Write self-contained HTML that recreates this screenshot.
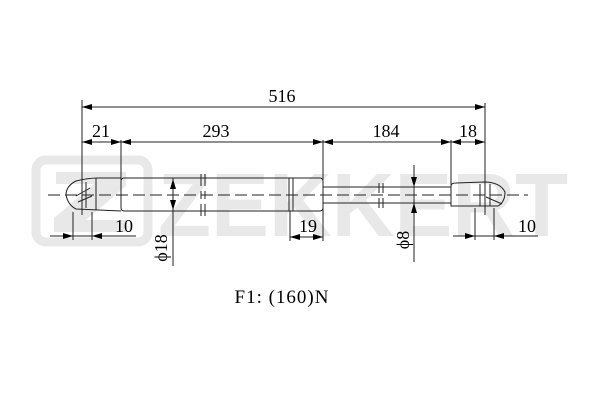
<!DOCTYPE html>
<html><head><style>body{margin:0;background:#fff}svg{display:block}</style></head><body>
<svg width="600" height="400" xmlns="http://www.w3.org/2000/svg" font-family="Liberation Serif, serif">
<defs><marker id="a" viewBox="0 0 10 6" refX="10" refY="3" markerWidth="10" markerHeight="6" orient="auto-start-reverse" markerUnits="userSpaceOnUse"><path d="M0,0L10,3L0,6z" fill="#000"/></marker></defs>
<g fill="#e8e8e8">
<rect x="36" y="160" width="112" height="82" rx="10" fill="none" stroke="#e8e8e8" stroke-width="9"/>
<path d="M56,172h70v14l-40,34h40v12h-72v-14l40-34h-38z"/>
<text x="158" y="236" font-family="Liberation Sans, sans-serif" font-weight="bold" font-size="90" textLength="410" lengthAdjust="spacingAndGlyphs">ZEKKERT</text>
</g>
<g stroke="#222" stroke-width="1" fill="none">
<line x1="82" y1="100" x2="82" y2="215"/><line x1="485" y1="103" x2="485" y2="215"/>
<line x1="121" y1="140" x2="121" y2="180"/><line x1="323" y1="140" x2="323" y2="180"/><line x1="451" y1="140" x2="451" y2="185"/>
<line x1="82" y1="107" x2="485" y2="107" marker-start="url(#a)" marker-end="url(#a)"/>
<line x1="82" y1="142" x2="121" y2="142" marker-start="url(#a)" marker-end="url(#a)"/>
<line x1="121" y1="142" x2="323" y2="142" marker-start="url(#a)" marker-end="url(#a)"/>
<line x1="323" y1="142" x2="451" y2="142" marker-start="url(#a)" marker-end="url(#a)"/>
<line x1="451" y1="142" x2="485" y2="142" marker-start="url(#a)" marker-end="url(#a)"/>
<line x1="48" y1="195" x2="528" y2="195" stroke-dasharray="12,5"/>
<path d="M121,178 L98,178 Q88,178 76,181 Q66,186 66,195 Q68,205 76,209 L121,211"/>
<path d="M76,196 L90,188 M78,202 L92,196 M96,178 V210 M86,182 V208"/>
<rect x="121" y="178" width="202" height="33" rx="3"/>
<line x1="289" y1="178" x2="289" y2="211"/><line x1="293" y1="178" x2="293" y2="211"/>
<path d="M201,174v12M205,174v12M201,191v8M205,191v8M201,204v12M205,204v12"/>
<rect x="323" y="187" width="128" height="16"/>
<path d="M379,183v10M383,183v10M379,198v10M383,198v10"/>
<path d="M451,206 V186 Q451,183 456,183 L484,182 Q500,182 505,192 Q505,202 498,206 Z"/>
<path d="M480,184 V206 M490,184 V206 M486,197 L502,204"/>
<line x1="173" y1="178" x2="173" y2="266"/>
<line x1="173" y1="193" x2="173" y2="179" marker-end="url(#a)"/><line x1="173" y1="197" x2="173" y2="210" marker-end="url(#a)"/>
<line x1="414" y1="165" x2="414" y2="262"/>
<line x1="414" y1="177" x2="414" y2="187" marker-end="url(#a)"/><line x1="414" y1="213" x2="414" y2="203" marker-end="url(#a)"/>
<line x1="73" y1="212" x2="73" y2="240"/><line x1="92" y1="212" x2="92" y2="240"/>
<line x1="50" y1="236" x2="136" y2="236"/>
<line x1="61" y1="236" x2="73" y2="236" marker-end="url(#a)"/><line x1="104" y1="236" x2="92" y2="236" marker-end="url(#a)"/>
<line x1="290" y1="211" x2="290" y2="241"/><line x1="323" y1="203" x2="323" y2="241"/>
<line x1="290" y1="237" x2="323" y2="237" marker-start="url(#a)" marker-end="url(#a)"/>
<line x1="475" y1="208" x2="475" y2="240"/><line x1="494" y1="208" x2="494" y2="240"/>
<line x1="453" y1="236" x2="538" y2="236"/>
<line x1="463" y1="236" x2="475" y2="236" marker-end="url(#a)"/><line x1="506" y1="236" x2="494" y2="236" marker-end="url(#a)"/>
</g>
<g font-size="18" fill="#000" text-anchor="middle">
<text x="282" y="102">516</text>
<text x="101" y="137">21</text>
<text x="216" y="137">293</text>
<text x="386" y="137">184</text>
<text x="468" y="137">18</text>
<text x="124" y="232">10</text>
<text x="308" y="232">19</text>
<text x="527" y="232">10</text>
<text transform="translate(167,248) rotate(-90)">ϕ18</text>
<text transform="translate(409,240) rotate(-90)">ϕ8</text>
<text x="282" y="303" font-size="19" letter-spacing="1">F1: (160)N</text>
</g>
</svg>
</body></html>
